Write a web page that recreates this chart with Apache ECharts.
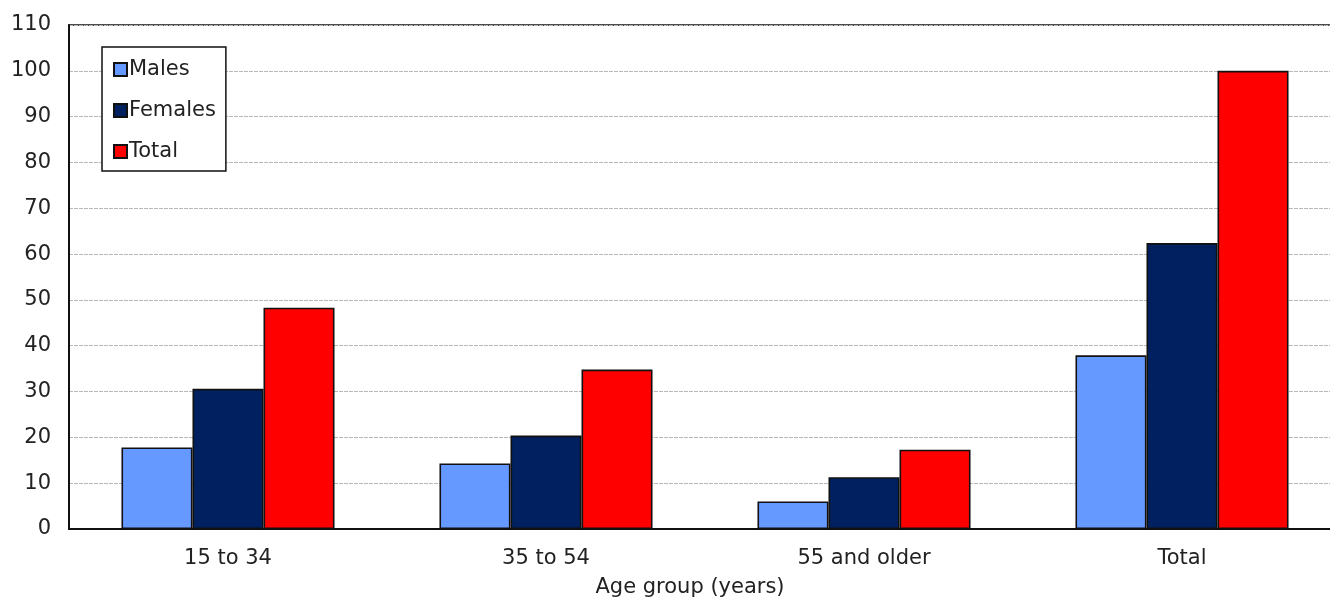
<!DOCTYPE html>
<html>
<head>
<meta charset="utf-8">
<script src="https://cdn.jsdelivr.net/npm/echarts@6/dist/echarts.min.js"></script>
<style>
html,body{margin:0;padding:0;background:#fff;}
#chart{width:1330px;height:598px;}
</style>
</head>
<body>
<div id="chart"></div>
<script>
const categories = ['15 to 34', '35 to 54', '55 and older', 'Total'];
const males = [17.8, 14.3, 6.0, 37.9];
const females = [30.6, 20.4, 11.3, 62.4];
const totals = [48.3, 34.8, 17.3, 100.0];
const yTicks = { min: 0, max: 110, interval: 10 };
const xAxisName = 'Age group (years)';

const font = 'DejaVu Sans';
const fs = 21;
const textColor = '#222';
const chart = echarts.init(document.getElementById('chart'), null, { renderer: 'canvas' });

function bar(name, data, color) {
  return {
    name: name,
    type: 'bar',
    data: data,
    barGap: '0%',
    barCategoryGap: '33%',
    itemStyle: { color: color, borderColor: '#111', borderWidth: 1.6 },
    emphasis: { disabled: true },
    animation: false
  };
}

chart.setOption({
  animation: false,
  grid: {
    left: 69, top: 25, right: -11, bottom: 69,
    containLabel: false,
    outerBoundsMode: 'none',
    show: true, borderColor: '#111', borderWidth: 1.5, backgroundColor: 'transparent'
  },
  legend: {
    orient: 'vertical',
    left: 102, top: 47,
    padding: [12, 10, 9, 11],
    itemWidth: 13, itemHeight: 13, itemGap: 20,
    icon: 'rect',
    backgroundColor: '#fff',
    borderColor: '#111', borderWidth: 1.5,
    textStyle: { fontFamily: font, fontSize: fs, color: textColor, padding: [0, 0, 0, -3] },
    data: ['Males', 'Females', 'Total']
  },
  xAxis: {
    type: 'category',
    data: categories,
    name: xAxisName,
    nameLocation: 'middle',
    nameGap: 48,
    nameTextStyle: { fontFamily: font, fontSize: fs, color: textColor, padding: [0, 30, 0, 0] },
    axisLine: { lineStyle: { color: '#111', width: 2 } },
    axisTick: { show: false },
    axisLabel: { fontFamily: font, fontSize: fs, color: textColor, margin: 19 }
  },
  yAxis: {
    type: 'value',
    min: yTicks.min, max: yTicks.max, interval: yTicks.interval,
    axisLine: { show: true, lineStyle: { color: '#111', width: 2 } },
    axisTick: { show: false },
    axisLabel: { fontFamily: font, fontSize: fs, color: textColor, margin: 18 },
    splitLine: { show: true, lineStyle: { color: '#b8b8b8', width: 1, type: [4, 1] } }
  },
  series: [
    bar('Males', males, '#6699FF'),
    bar('Females', females, '#00205F'),
    bar('Total', totals, '#FF0000')
  ]
});
</script>
</body>
</html>
